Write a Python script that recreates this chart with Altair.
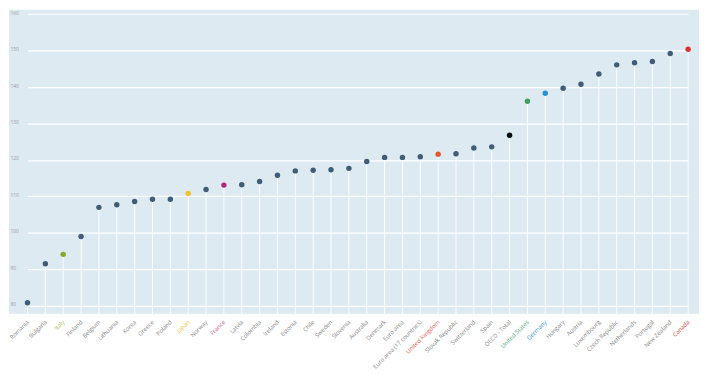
import altair as alt
import pandas as pd

countries = ["Romania", "Bulgaria", "Italy", "Finland", "Belgium", "Lithuania", "Korea",
             "Greece", "Poland", "Japan", "Norway", "France", "Latvia", "Colombia",
             "Ireland", "Estonia", "Chile", "Sweden", "Slovenia", "Australia", "Denmark",
             "Euro area", "Euro area (17 countries)", "United Kingdom", "Slovak Republic",
             "Switzerland", "Spain", "OECD - Total", "United States", "Germany", "Hungary",
             "Austria", "Luxembourg", "Czech Republic", "Netherlands", "Portugal",
             "New Zealand", "Canada"]
values = [80.8, 91.5, 94.1, 99.0, 107.0, 107.7, 108.6, 109.2, 109.2, 110.8, 111.9, 113.1,
          113.2, 114.1, 115.8, 117.0, 117.2, 117.3, 117.7, 119.6, 120.7, 120.7, 120.9,
          121.6, 121.7, 123.3, 123.6, 126.8, 136.1, 138.3, 139.7, 140.8, 143.6, 146.1,
          146.7, 147.0, 149.2, 150.4]
y_ticks = [80, 90, 100, 110, 120, 130, 140, 150, 160]

DEFAULT_DOT = "#3f5d77"
dot_highlight = {"Italy": "#86a82a", "Japan": "#f2c12e", "France": "#b3287f",
                 "United Kingdom": "#e4582c", "OECD - Total": "#0b0b0b",
                 "United States": "#3f9e5c", "Germany": "#2a90d2", "Canada": "#e0302d"}
label_highlight = {"Italy": "#a9c25a", "Japan": "#efc54a", "France": "#d0578e",
                   "United Kingdom": "#ea6a55", "United States": "#5aae84",
                   "Germany": "#3d93d0", "Canada": "#e0453f"}

df = pd.DataFrame({"country": countries, "value": values})

label_expr = ""
for k, v in label_highlight.items():
    label_expr += f"datum.value == '{k}' ? '{v}' : "
label_expr += "'#8a8a8a'"

x_enc = alt.X("country:N", sort=countries,
              scale=alt.Scale(type="point", padding=0, range=[18.7, 686]),
              axis=alt.Axis(title=None, labelAngle=-45, labelAlign="right",
                            labelBaseline="middle", labelFontSize=6, labelFont="Open Sans",
                            labelColor={"expr": label_expr}, ticks=False, tickSize=0,
                            domain=False, labelPadding=7, grid=False, labelOverlap=False))

y_enc = alt.Y("value:Q",
              scale=alt.Scale(domain=[77.8, 161.2], nice=False, zero=False),
              axis=alt.Axis(title=None, values=y_ticks, ticks=False, tickSize=0, domain=False,
                            labelAlign="left", labelPadding=-1, labelFontSize=5,
                            labelFont="Open Sans", labelColor="#9a9a9a",
                            labelBaseline="middle", labelOffset=-2,
                            gridColor="#ffffff", gridWidth=1.2, gridOpacity=1))

base = alt.Chart(df)

stems = base.mark_rule(color="#ffffff", strokeWidth=1, opacity=0.9).encode(
    x=x_enc, y=y_enc, y2=alt.datum(77.8))

dots = base.mark_circle(size=30, opacity=1).encode(
    x=x_enc, y=y_enc,
    color=alt.Color("country:N",
                    scale=alt.Scale(domain=countries,
                                    range=[dot_highlight.get(c, DEFAULT_DOT) for c in countries]),
                    legend=None))

chart = alt.layer(stems, dots).properties(
    width=697, height=307,
    padding={"left": 0, "top": 0, "right": 0, "bottom": 0},
    background="#ffffff",
).configure_view(fill="#deeaf2", stroke=None)

chart.save("out.html", embed_options={"renderer": "svg", "actions": False})
